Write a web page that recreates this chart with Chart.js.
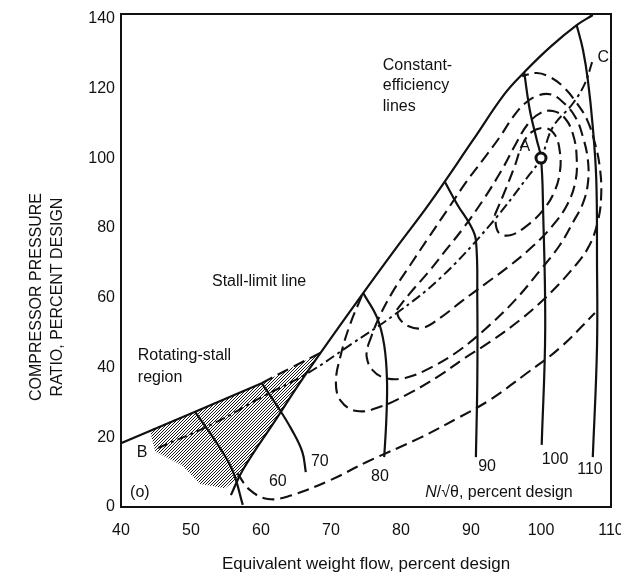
<!DOCTYPE html>
<html>
<head>
<meta charset="utf-8">
<script src="https://cdn.jsdelivr.net/npm/chart.js@4.4.1/dist/chart.umd.min.js"></script>
<style>
  html, body { margin: 0; padding: 0; background: #fff; }
</style>
</head>
<body>
<canvas id="myChart" width="621" height="579"></canvas>
<script>
const xTicks = [40, 50, 60, 70, 80, 90, 100, 110];
const yTicks = [0, 20, 40, 60, 80, 100, 120, 140];

// stall-limit line (low-speed part, then dashed, then the steep main line)
const stallLow = [[40, 18.3], [50.6, 27.3], [60.1, 35.5]];
const stallLowDash = [[60.1, 35.5], [64.4, 40.0], [68.7, 44.4]];
const stallLine = [[55.7, 3.4], [57.4, 10.6], [61.9, 24.4], [66.3, 37.8], [74.6, 61.3], [79.4, 74.5],
  [84.1, 87.1], [90.3, 105.2], [94.8, 118.4], [97.6, 124.6], [101.3, 131.8], [105.1, 138.1], [107.4, 141.0]];

// corrected speed lines N/sqrt(theta)
const speed60 = [[50.6, 27.2], [53.4, 19.2], [55.9, 10.6], [57.4, 0.6]];
const speed70 = [[60.1, 35.5], [62.4, 28.7], [64.4, 22.1], [65.9, 15.8], [66.4, 10.0]];
const speed80 = [[74.6, 61.3], [76.6, 54.2], [77.6, 46.4], [78.0, 36.4], [77.9, 24.9], [77.6, 14.3]];
const speed90 = [[86.3, 93.1], [88.1, 86.5], [89.9, 80.8], [90.7, 76.5], [90.9, 59.3], [90.9, 36.4], [90.7, 14.3]];
const speed100 = [[97.6, 124.6], [98.4, 113.8], [99.4, 105.2], [100, 100], [100.3, 85.1], [100.6, 50.7], [100.1, 17.8]];
const speed110 = [[105.1, 138.1], [106.0, 131.0], [106.7, 122.3], [107.4, 108.9], [107.9, 93.7], [108.0, 70.8], [108.0, 45.8], [107.4, 14.3]];

// operating line B - A - C
const operatingLine = [[45.3, 16.9], [53.4, 24.1], [60.1, 31.5], [66.7, 38.4], [72.7, 46.4], [79.4, 55.6],
  [85.6, 65.6], [92.7, 80.8], [98.4, 95.4], [100, 100], [101.7, 108.9], [104.6, 115.8], [106.3, 121.5], [107.3, 127.5]];
const designPoint = [[100, 100]];

// constant-efficiency lines
const eff1 = [[56.6, 9.7], [58.4, 4.9], [61, 2.3], [64.1, 3.2], [69.9, 7.7], [75.1, 12.9], [82.7, 19.8],
  [88.4, 25.8], [92.7, 30.7], [98, 38.4], [102.7, 45.6], [107.7, 55.6]];
const eff2 = [[74.4, 60.5], [72.7, 52.2], [71.4, 43.6], [70.7, 35.8], [71.4, 30.4], [73.7, 27.5], [77.0, 28.7],
  [81.3, 32.7], [85.6, 37.8], [89.1, 42.7], [92.7, 47.3], [97.0, 53.6], [100.6, 59.9], [104.1, 67.3],
  [106.7, 74.2], [108.1, 81.7], [108.6, 89.4], [108.4, 97.4], [107.7, 104.3], [106.6, 110.9], [105.0, 116.1],
  [103.1, 120.6], [101.3, 123.2], [99.4, 124.4], [97.3, 123.5]];
const eff3 = [[75.3, 46.4], [76.7, 53.6], [78.7, 61.3], [81.3, 69.3], [83.9, 77.1], [86.6, 85.1], [89.3, 93.1],
  [92.0, 100.3], [94.1, 106.0], [95.9, 111.5], [97.6, 115.5], [99.4, 117.8], [101.3, 118.3], [103.1, 116.1],
  [104.9, 111.8], [106.0, 106.0], [106.7, 99.4], [106.7, 92.8], [106.0, 87.1], [104.6, 81.7], [102.7, 75.1],
  [99.9, 67.9], [96.3, 59.3], [92.7, 52.2], [88.4, 45.0], [84.4, 40.1], [80.6, 37.0], [77.7, 37.0],
  [75.9, 39.3], [75.1, 43.0], [75.3, 46.4]];
const eff4 = [[79.4, 56.5], [81.3, 61.3], [83.9, 67.3], [86.4, 73.6], [89.0, 80.2], [91.9, 88.5], [94.4, 96.6],
  [96.3, 103.7], [98.1, 109.7], [99.9, 112.9], [101.7, 113.5], [103.4, 111.5], [104.6, 106.6], [105.1, 100.0],
  [104.9, 93.1], [103.7, 86.5], [101.6, 80.5], [98.7, 74.5], [95.3, 68.8], [92.0, 63.9], [88.7, 59.0],
  [85.6, 54.2], [83.1, 51.3], [81.0, 51.9], [79.7, 54.2], [79.4, 56.5]];
const eff5 = [[93.4, 83.7], [94.9, 90.8], [96.3, 98.0], [97.3, 103.7], [98.7, 107.5], [100.6, 108.6], [102.0, 106.6],
  [102.7, 101.7], [102.7, 96.0], [101.9, 90.3], [100.3, 85.1], [98.1, 80.8], [95.6, 77.9], [93.9, 78.8], [93.4, 83.7]];

// rotating-stall region (hatched)
const stallRegion = [[44.1, 22.1], [60.1, 35.5], [68.7, 44.4], [66.3, 37.8], [61.9, 24.4], [57.4, 10.6],
  [56.3, 7.7], [54.9, 5.4], [51.3, 6.6], [48.7, 12.0], [44.9, 15.8]];

const ink = "#111";
const family = "'Liberation Sans', Arial, Helvetica, sans-serif";
const pts = (a) => a.map(([x, y]) => ({ x, y }));

function solid(data, w) {
  return { data: pts(data), showLine: true, borderColor: ink, borderWidth: w || 2.2,
    pointRadius: 0, tension: 0.4, fill: false };
}
function dashed(data) {
  return Object.assign(solid(data, 2.1), { borderDash: [12, 6] });
}

// hatch pattern
const pc = document.createElement("canvas");
pc.width = 3; pc.height = 3;
const pg = pc.getContext("2d");
pg.strokeStyle = "#1a1a1a"; pg.lineWidth = 1;
pg.beginPath();
pg.moveTo(0, 3); pg.lineTo(3, 0);
pg.moveTo(-1.5, 1.5); pg.lineTo(1.5, -1.5);
pg.moveTo(1.5, 4.5); pg.lineTo(4.5, 1.5);
pg.stroke();

const extras = {
  id: "extras",
  beforeDatasetsDraw(chart) {
    const { ctx, chartArea, scales } = chart;
    ctx.save();
    ctx.beginPath();
    ctx.rect(chartArea.left, chartArea.top, chartArea.width, chartArea.height);
    ctx.clip();
    ctx.beginPath();
    stallRegion.forEach(([x, y], i) => {
      const px = scales.x.getPixelForValue(x), py = scales.y.getPixelForValue(y);
      if (i === 0) ctx.moveTo(px, py); else ctx.lineTo(px, py);
    });
    ctx.closePath();
    ctx.fillStyle = ctx.createPattern(pc, "repeat");
    ctx.fill();
    ctx.restore();
  },
  afterDraw(chart) {
    const { ctx, chartArea, scales } = chart;
    ctx.save();
    ctx.strokeStyle = ink;
    ctx.lineWidth = 2;
    ctx.strokeRect(chartArea.left, chartArea.top, chartArea.width, chartArea.height);

    ctx.fillStyle = ink;
    ctx.textBaseline = "middle";
    ctx.font = "16px " + family;
    const notes = [
      ["Constant-", 77.4, 126.6, "left"], ["efficiency", 77.4, 120.9, "left"], ["lines", 77.4, 114.9, "left"],
      ["Stall-limit line", 53.0, 64.5, "left"],
      ["Rotating-stall", 42.4, 43.3, "left"], ["region", 42.4, 37.2, "left"],
      ["B", 43.0, 15.5, "center"], ["(o)", 41.3, 4.0, "left"],
      ["60", 62.4, 7.2, "center"], ["70", 68.4, 12.9, "center"], ["80", 77.0, 8.6, "center"],
      ["90", 92.3, 11.5, "center"], ["100", 102.0, 13.5, "center"], ["110", 107.0, 10.6, "center"],
      ["A", 97.7, 103.2, "center"], ["C", 108.9, 128.7, "center"]
    ];
    notes.forEach(([t, x, y, al]) => {
      ctx.textAlign = al;
      ctx.fillText(t, scales.x.getPixelForValue(x), scales.y.getPixelForValue(y));
    });

    // N/sqrt(theta) label, N in italics
    const rest = "/\u221A\u03B8, percent design";
    ctx.font = "italic 16px " + family;
    const wN = ctx.measureText("N").width;
    ctx.font = "16px " + family;
    const wR = ctx.measureText(rest).width;
    const cx = scales.x.getPixelForValue(94.0), cy = scales.y.getPixelForValue(4.0);
    const x0 = cx - (wN + wR) / 2;
    ctx.textAlign = "left";
    ctx.font = "italic 16px " + family;
    ctx.fillText("N", x0, cy);
    ctx.font = "16px " + family;
    ctx.fillText(rest, x0 + wN, cy);

    // y axis title
    ctx.translate(0, 297);
    ctx.rotate(-Math.PI / 2);
    ctx.textAlign = "center";
    ctx.fillText("COMPRESSOR PRESSURE", 0, 37);
    ctx.fillText("RATIO, PERCENT DESIGN", 0, 58);
    ctx.restore();
  }
};

const tickFont = { family: family, size: 16 };

new Chart(document.getElementById("myChart"), {
  type: "scatter",
  data: {
    datasets: [
      { data: pts(designPoint), pointRadius: 5, pointBorderWidth: 3, pointBackgroundColor: "#fff",
        pointBorderColor: ink, showLine: false },
      solid(stallLow), dashed(stallLowDash), solid(stallLine),
      solid(speed60), solid(speed70), solid(speed80), solid(speed90), solid(speed100), solid(speed110),
      Object.assign(solid(operatingLine, 2), { borderDash: [10, 4, 3, 4] }),
      dashed(eff1), dashed(eff2), dashed(eff3), dashed(eff4), dashed(eff5)
    ]
  },
  options: {
    responsive: false,
    animation: false,
    devicePixelRatio: 1,
    layout: { padding: { left: 0, right: 10, top: 14, bottom: 0 } },
    plugins: { legend: { display: false }, tooltip: { enabled: false } },
    scales: {
      x: {
        type: "linear", min: 40, max: 110,
        afterBuildTicks: (s) => { s.ticks = xTicks.map((v) => ({ value: v })); },
        afterFit: (s) => { s.height = 72; s.paddingLeft = 0; s.paddingRight = 0; },
        grid: { display: false, drawTicks: false },
        border: { display: false },
        ticks: { padding: 14, color: ink, font: tickFont, maxRotation: 0, autoSkip: false },
        title: { display: true, text: "Equivalent weight flow, percent design", color: ink,
          font: { family: family, size: 17 }, padding: { top: 0, bottom: 4 } }
      },
      y: {
        type: "linear", min: 0, max: 141.3,
        afterBuildTicks: (s) => { s.ticks = yTicks.map((v) => ({ value: v })); },
        afterFit: (s) => { s.width = 121; s.paddingTop = 0; s.paddingBottom = 0; },
        grid: { display: false, drawTicks: false },
        border: { display: false },
        ticks: { padding: 6, color: ink, font: tickFont, autoSkip: false }
      }
    }
  },
  plugins: [extras]
});
</script>
</body>
</html>
